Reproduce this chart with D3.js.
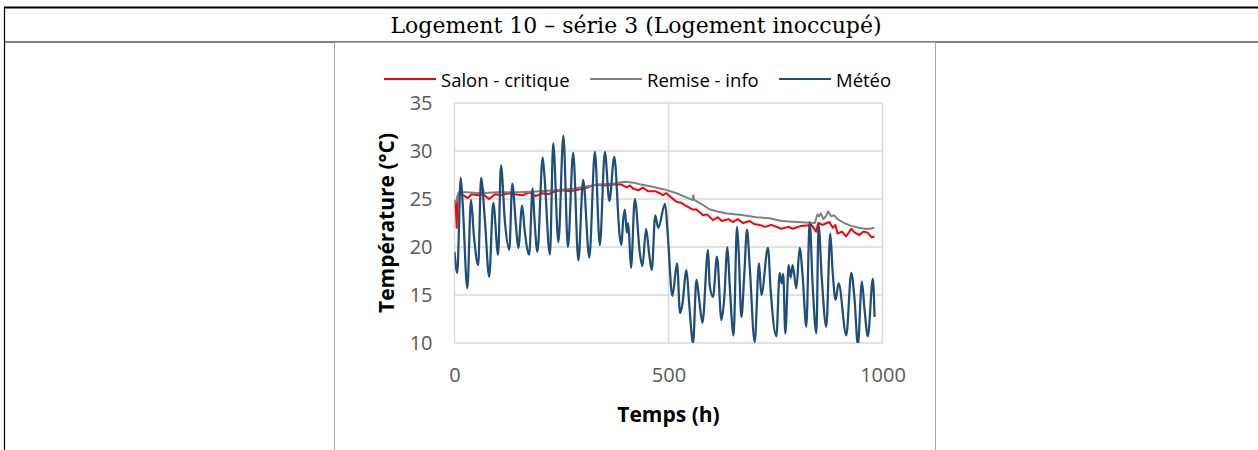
<!DOCTYPE html>
<html>
<head>
<meta charset="utf-8">
<script src="https://cdn.jsdelivr.net/npm/d3@7"></script>
<style>
  body { margin: 0; background: #fff; }
  svg { display: block; }
</style>
</head>
<body>
<svg id="chart"></svg>
<script>
// ---- data ----
var titleText = "Logement 10 \u2013 série 3 (Logement inoccupé)";
var seriesNames = ["Salon - critique", "Remise - info", "Météo"];
var seriesColors = ["#ff0000", "#808080", "#1f4e79"];
var xTicks = [0, 500, 1000];
var yTicks = [10, 15, 20, 25, 30, 35];

var salonHours = [0, 3, 5, 7, 12, 20, 31, 40, 55, 66, 67, 69, 81, 95, 110, 125, 140, 160, 175, 190, 205, 220, 235, 253, 270, 290, 310, 330, 350, 370, 390, 402, 410, 417, 430, 440, 452, 470, 480, 487, 495, 505, 519, 530, 540, 557, 565, 581, 590, 604, 615, 625, 640, 650, 662, 674, 690, 700, 713, 725, 740, 764, 780, 790, 810, 834, 845, 850, 860, 870, 876, 884, 890, 895, 905, 915, 927, 935, 946, 955, 965, 975, 981];
var salonTemp = [24.8, 24.4, 22.0, 25.3, 25.6, 25.4, 25.1, 25.5, 25.4, 25.5, 26.0, 25.4, 25.0, 25.5, 25.4, 25.6, 25.5, 25.4, 25.7, 25.3, 25.6, 25.5, 25.8, 25.9, 25.8, 26.0, 26.2, 26.5, 26.4, 26.5, 26.5, 26.2, 26.4, 26.1, 25.9, 26.2, 25.8, 25.8, 25.6, 25.4, 25.6, 25.2, 24.7, 24.6, 24.3, 23.9, 23.9, 23.3, 23.4, 22.8, 23.1, 22.7, 22.9, 22.6, 22.9, 22.5, 22.7, 22.4, 22.3, 22.1, 22.3, 21.9, 22.1, 21.9, 22.2, 22.3, 21.6, 22.5, 22.3, 22.5, 22.6, 22.0, 22.3, 21.4, 21.6, 21.1, 21.9, 21.5, 21.25, 21.6, 21.5, 21.0, 21.1];

var remiseHours = [0, 3, 6, 10, 30, 60, 100, 150, 200, 235, 280, 335, 370, 397, 420, 436, 460, 490, 519, 540, 556, 558, 560, 580, 597, 615, 636, 655, 675, 705, 736, 764, 800, 842, 848, 852, 856, 862, 869, 873, 880, 887, 895, 910, 927, 945, 958, 972, 981];
var remiseTemp = [24.9, 24.6, 25.0, 25.7, 25.7, 25.6, 25.7, 25.7, 25.8, 25.9, 26.1, 26.5, 26.6, 26.8, 26.7, 26.5, 26.3, 26.0, 25.6, 25.2, 24.9, 25.4, 24.9, 24.4, 23.9, 23.7, 23.5, 23.4, 23.3, 23.1, 23.0, 22.7, 22.6, 22.5, 23.4, 23.2, 23.5, 22.9, 23.3, 23.7, 23.2, 23.3, 22.9, 22.5, 22.2, 22.0, 21.9, 21.9, 22.0];

var meteoHours = [0, 6.5, 14.5, 19, 30, 38.5, 45.5, 55.5, 62, 71, 81, 90.5, 102, 108.5, 118, 128, 135, 143.5, 149, 158, 164.5, 174.5, 182.5, 186.7, 193.7, 206, 210, 223, 230.6, 242.7, 254.4, 265, 277.3, 289.4, 300.6, 315, 328, 339.6, 351.3, 361.8, 373.4, 385.8, 390, 394, 398, 402.6, 406, 412.4, 421.3, 433, 439, 447.7, 455, 461, 469, 476, 492, 498, 509, 520, 527, 532, 542, 548.5, 557.4, 565.3, 571.8, 579.3, 592.4, 596.3, 604, 613.4, 623.6, 630, 637.7, 643, 652, 660, 664, 670.3, 676.9, 683.4, 689.7, 701.4, 711.4, 717, 732.4, 738.7, 752, 759.7, 764.4, 768, 773, 780.7, 785.4, 790, 798.7, 806.4, 813.4, 822, 829.8, 836.8, 845.4, 850.8, 857.8, 868.7, 878, 883.4, 890.4, 897.5, 915.4, 927, 934.8, 942.5, 951.8, 958, 965.8, 977.5, 981.5];
var meteoTemp = [19.5, 17.3, 27.2, 24.6, 15.7, 24.9, 21.1, 18.1, 27.2, 22.8, 16.9, 24.6, 19.2, 28.5, 22.5, 19.7, 26.6, 22.3, 19.9, 24.3, 21.5, 19.2, 26.1, 23.0, 19.5, 29.3, 27.5, 19.2, 30.8, 20.5, 31.6, 20.0, 29.8, 18.6, 27.0, 18.9, 29.9, 20.2, 29.9, 24.8, 29.4, 21.2, 20.2, 22.8, 23.9, 21.5, 22.5, 17.8, 25.0, 19.4, 18.0, 21.9, 19.2, 17.6, 23.3, 22.0, 24.5, 21.5, 14.9, 18.3, 13.1, 13.9, 17.6, 14.0, 10.0, 16.6, 14.5, 12.1, 19.7, 16.0, 14.8, 19.0, 12.4, 14.5, 20.0, 16.0, 10.8, 22.1, 19.5, 12.7, 17.0, 21.8, 18.0, 10.1, 18.3, 15.0, 19.9, 15.5, 10.7, 17.3, 16.2, 17.2, 11.0, 18.1, 16.8, 18.1, 15.7, 19.9, 17.0, 11.7, 22.6, 16.0, 11.0, 22.3, 17.0, 11.7, 21.4, 17.5, 14.5, 16.2, 10.8, 17.3, 14.5, 9.8, 16.4, 13.5, 10.7, 16.7, 12.7];

// ---- layout ----
var W = 1258, H = 450;
var plot = {left: 454.5, right: 882.5, top: 103, bottom: 343};

var svg = d3.select("#chart").attr("width", W).attr("height", H);

// table frame
svg.append("rect").attr("x", 0).attr("y", 0).attr("width", W).attr("height", H).attr("fill", "#fff");
svg.append("line").attr("x1", 4).attr("x2", W).attr("y1", 7.5).attr("y2", 7.5)
  .attr("stroke", "#000").attr("stroke-width", 1.8);
svg.append("line").attr("x1", 4).attr("x2", W).attr("y1", 42).attr("y2", 42)
  .attr("stroke", "#000").attr("stroke-width", 1.2);
svg.append("line").attr("x1", 4.5).attr("x2", 4.5).attr("y1", 7).attr("y2", H)
  .attr("stroke", "#000").attr("stroke-width", 1.2);
svg.append("text").attr("x", 636).attr("y", 25).attr("text-anchor", "middle")
  .attr("dominant-baseline", "central")
  .style("font-family", "'DejaVu Serif', serif").style("font-size", "22px")
  .attr("fill", "#000").text(titleText);

// chart box
svg.append("rect").attr("x", 334.5).attr("y", 42.5).attr("width", 601).attr("height", 420)
  .attr("fill", "#fff").attr("stroke", "#a6a6a6").attr("stroke-width", 1);

var x = d3.scaleLinear().domain([0, 1000]).range([plot.left, plot.right]);
var y = d3.scaleLinear().domain([10, 35]).range([plot.bottom, plot.top]);

// grid
var grid = svg.append("g");
grid.selectAll(".hg").data(yTicks).enter().append("line")
  .attr("x1", plot.left).attr("x2", plot.right)
  .attr("y1", function(d) { return y(d); }).attr("y2", function(d) { return y(d); })
  .attr("stroke", "#d9d9d9").attr("stroke-width", 1.5);
grid.selectAll(".vg").data(xTicks).enter().append("line")
  .attr("x1", function(d) { return x(d); }).attr("x2", function(d) { return x(d); })
  .attr("y1", plot.top).attr("y2", plot.bottom)
  .attr("stroke", "#d9d9d9").attr("stroke-width", 1.5);

// axes labels via d3 axes, lines hidden
var yAxis = svg.append("g").attr("transform", "translate(" + (plot.left - 22) + ",0)")
  .call(d3.axisLeft(y).tickValues(yTicks).tickFormat(d3.format("d")).tickSize(0).tickPadding(0));
var xAxis = svg.append("g").attr("transform", "translate(0," + (plot.bottom + 25) + ")")
  .call(d3.axisBottom(x).tickValues(xTicks).tickFormat(d3.format("d")).tickSize(0).tickPadding(0));
[yAxis, xAxis].forEach(function(a) {
  a.select(".domain").remove();
  a.selectAll("text").style("font-family", "'Open Sans', sans-serif")
    .style("font-size", "20px").attr("fill", "#595959");
});
xAxis.selectAll("text").attr("dy", "0.71em").attr("y", 0);

svg.append("text").attr("x", x(500)).attr("y", 414).attr("text-anchor", "middle")
  .attr("dominant-baseline", "central")
  .style("font-family", "'Open Sans', sans-serif").style("font-size", "21px").style("font-weight", "bold")
  .text("Temps (h)");
svg.append("text").attr("transform", "translate(386," + ((plot.top + plot.bottom) / 2) + ") rotate(-90)")
  .attr("text-anchor", "middle").attr("dominant-baseline", "central")
  .style("font-family", "'Open Sans', sans-serif").style("font-size", "21px").style("font-weight", "bold")
  .text("Température (°C)");

// lines
svg.append("clipPath").attr("id", "clip").append("rect")
  .attr("x", plot.left).attr("y", plot.top - 1)
  .attr("width", plot.right - plot.left).attr("height", plot.bottom - plot.top + 1);

var series = [
  {hours: salonHours, temp: salonTemp, width: 2, curve: d3.curveLinear},
  {hours: remiseHours, temp: remiseTemp, width: 2, curve: d3.curveLinear},
  {hours: meteoHours, temp: meteoTemp, width: 2.25, curve: d3.curveMonotoneX}
];
var plotG = svg.append("g").attr("clip-path", "url(#clip)");
series.forEach(function(s, i) {
  var line = d3.line()
    .x(function(d, j) { return x(s.hours[j]); })
    .y(function(d, j) { return y(s.temp[j]); })
    .curve(s.curve);
  plotG.append("path").datum(s.temp)
    .attr("d", line).attr("fill", "none")
    .attr("stroke", seriesColors[i]).attr("stroke-width", s.width)
    .attr("stroke-linejoin", "round");
});

// legend
var legendX = [384, 590, 779];
var legend = svg.append("g").selectAll("g").data(seriesNames).enter().append("g")
  .attr("transform", function(d, i) { return "translate(" + legendX[i] + ",79)"; });
legend.append("line").attr("x1", 0).attr("x2", 52).attr("y1", 0).attr("y2", 0)
  .attr("stroke", function(d, i) { return seriesColors[i]; }).attr("stroke-width", 2);
legend.append("text").attr("x", 57).attr("y", 0).attr("dominant-baseline", "central")
  .style("font-family", "'Open Sans', sans-serif").style("font-size", "18.5px")
  .attr("fill", "#000").text(function(d) { return d; });
</script>
</body>
</html>
